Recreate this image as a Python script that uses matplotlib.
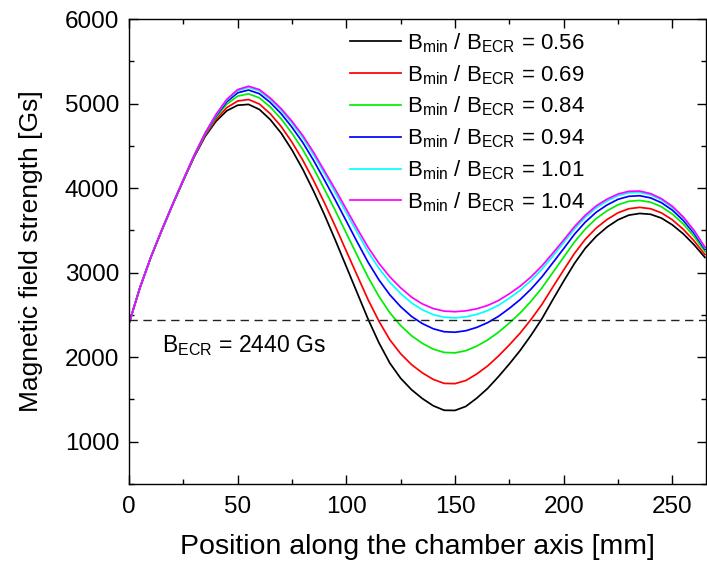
import matplotlib
matplotlib.use("Agg")
import matplotlib.pyplot as plt
from matplotlib.ticker import MultipleLocator

plt.rcParams['font.family'] = ['Liberation Sans', 'DejaVu Sans']
plt.rcParams['mathtext.fontset'] = 'custom'
plt.rcParams['mathtext.rm'] = 'Liberation Sans'
plt.rcParams['mathtext.it'] = 'Liberation Sans'

# Axial position along the chamber [mm]
position = list(range(0, 266, 5))

# Axial field profiles [Gs] for each Bmin/BECR setting
b_056 = [2400, 2820, 3180, 3495, 3800, 4090, 4370, 4610, 4790, 4915,
         4980, 4990, 4930, 4810, 4650, 4450, 4220, 3960, 3680, 3380,
         3070, 2760, 2450, 2170, 1930, 1750, 1615, 1510, 1425, 1372,
         1370, 1418, 1515, 1630, 1770, 1920, 2080, 2260, 2455, 2680,
         2900, 3110, 3290, 3430, 3540, 3625, 3680, 3700, 3690, 3645,
         3565, 3460, 3330, 3180]
b_069 = [2400, 2820, 3180, 3496, 3801, 4093, 4375, 4621, 4812, 4952,
         5030, 5048, 4994, 4879, 4729, 4542, 4328, 4085, 3821, 3543,
         3254, 2966, 2680, 2425, 2206, 2040, 1912, 1814, 1737, 1690,
         1687, 1724, 1801, 1896, 2014, 2145, 2286, 2447, 2624, 2829,
         3031, 3228, 3396, 3528, 3629, 3708, 3756, 3772, 3756, 3707,
         3625, 3514, 3376, 3213]
b_084 = [2400, 2820, 3180, 3498, 3803, 4096, 4382, 4633, 4837, 4994,
         5088, 5115, 5067, 4959, 4819, 4648, 4453, 4228, 3983, 3730,
         3466, 3203, 2946, 2718, 2525, 2374, 2253, 2163, 2095, 2056,
         2051, 2077, 2131, 2203, 2295, 2404, 2523, 2662, 2819, 3001,
         3183, 3364, 3517, 3640, 3732, 3803, 3844, 3854, 3833, 3779,
         3693, 3577, 3429, 3250]
b_094 = [2400, 2820, 3180, 3499, 3804, 4098, 4386, 4642, 4853, 5022,
         5127, 5160, 5116, 5012, 4880, 4719, 4537, 4324, 4092, 3855,
         3609, 3362, 3123, 2914, 2738, 2597, 2482, 2397, 2336, 2301,
         2295, 2313, 2352, 2408, 2483, 2577, 2682, 2806, 2950, 3116,
         3284, 3455, 3599, 3715, 3801, 3867, 3903, 3910, 3884, 3827,
         3739, 3618, 3465, 3275]
b_101 = [2400, 2820, 3180, 3500, 3805, 4099, 4389, 4648, 4865, 5042,
         5153, 5192, 5150, 5049, 4922, 4769, 4595, 4391, 4168, 3943,
         3708, 3473, 3247, 3051, 2886, 2753, 2642, 2560, 2503, 2472,
         2465, 2477, 2506, 2551, 2614, 2698, 2793, 2907, 3041, 3196,
         3355, 3518, 3656, 3768, 3849, 3911, 3944, 3948, 3920, 3861,
         3771, 3648, 3489, 3293]
b_104 = [2400, 2820, 3180, 3500, 3805, 4100, 4390, 4650, 4870, 5050,
         5165, 5205, 5165, 5065, 4940, 4790, 4620, 4420, 4200, 3980,
         3750, 3520, 3300, 3110, 2950, 2820, 2710, 2630, 2575, 2545,
         2538, 2548, 2572, 2612, 2670, 2750, 2840, 2950, 3080, 3230,
         3385, 3545, 3680, 3790, 3870, 3930, 3962, 3965, 3935, 3875,
         3785, 3660, 3500, 3300]

ratios = ['0.56', '0.69', '0.84', '0.94', '1.01', '1.04']
profiles = [b_056, b_069, b_084, b_094, b_101, b_104]
colors = ['#000000', '#ff0000', '#00ee00', '#0000ff', '#00ffff', '#ff00ff']

b_ecr = 2440

fig = plt.figure(figsize=(7.07, 5.69), dpi=100)
ax = fig.add_axes([0.1825, 0.1494, 0.8161, 0.8172])

for ratio, prof, col in zip(ratios, profiles, colors):
    ax.plot(position, prof, color=col, lw=1.25,
            label=r'B$_{\mathrm{min}}$ / B$_{\mathrm{ECR}}$ = ' + ratio)

ax.axhline(b_ecr, color='#222222', lw=1.0, ls=(0, (6, 4)))
ax.text(15, 2290, r'B$_{\mathrm{ECR}}$ = 2440 Gs', fontsize=16.5,
        ha='left', va='top')

ax.set_xlim(0, 265.5)
ax.set_ylim(500, 6000)
ax.xaxis.set_major_locator(MultipleLocator(50))
ax.xaxis.set_minor_locator(MultipleLocator(25))
ax.yaxis.set_major_locator(MultipleLocator(1000))
ax.yaxis.set_minor_locator(MultipleLocator(500))
ax.tick_params(which='both', direction='in', top=True, right=True,
               width=1.0, labelsize=17.5)
ax.tick_params(which='major', length=6.5)
ax.tick_params(which='minor', length=3.5)
ax.tick_params(axis='x', which='major', pad=9)
ax.tick_params(axis='y', which='major', pad=7)
for sp in ax.spines.values():
    sp.set_linewidth(1.0)

ax.set_xlabel('Position along the chamber axis [mm]', fontsize=20.5,
              labelpad=11)
ax.set_ylabel('Magnetic field strength [Gs]', fontsize=19, labelpad=16)

leg = ax.legend(loc='upper left', bbox_to_anchor=(0.383, 0.974),
                frameon=False, fontsize=16, handlelength=2.3,
                handletextpad=0.25, labelspacing=0.37, borderpad=0,
                borderaxespad=0)

fig.savefig('out.png', dpi=100)
